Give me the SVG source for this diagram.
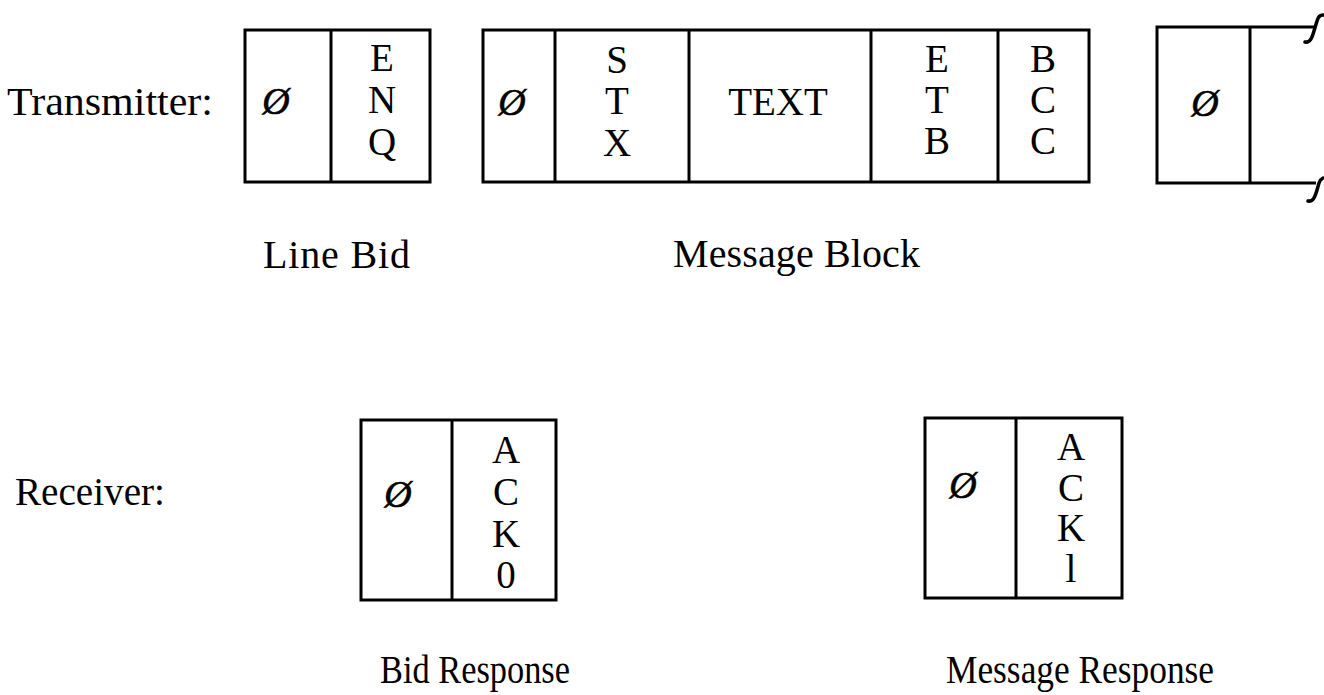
<svg xmlns="http://www.w3.org/2000/svg" width="1324" height="695" viewBox="0 0 1324 695">
<style>
  .box{fill:none;stroke:#000;stroke-width:3}
  .div{stroke:#000;stroke-width:3}
  .lbl{font-family:"Liberation Serif","Times New Roman",serif;font-size:40px;fill:#000}
  .ch{font-family:"Liberation Serif","Times New Roman",serif;font-size:39px;fill:#000;text-anchor:middle}
  .z{font-family:"Liberation Serif","Times New Roman",serif;font-size:38px;font-style:italic;fill:#000;stroke:#000;stroke-width:0.6;text-anchor:middle}
  .brk{fill:none;stroke:#000;stroke-width:3.5;stroke-linecap:round}
</style>
<rect width="1324" height="695" fill="#fff"/>

<g id="labels">
  <text class="lbl" x="7" y="115" textLength="206" lengthAdjust="spacingAndGlyphs">Transmitter:</text>
  <text class="lbl" x="263" y="268" textLength="147" lengthAdjust="spacing">Line Bid</text>
  <text class="lbl" x="673" y="267" textLength="247" lengthAdjust="spacing">Message Block</text>
  <text class="lbl" x="15" y="505" textLength="150" lengthAdjust="spacingAndGlyphs">Receiver:</text>
  <text class="lbl" x="380" y="683" textLength="190" lengthAdjust="spacingAndGlyphs">Bid Response</text>
  <text class="lbl" x="946" y="683" textLength="268" lengthAdjust="spacingAndGlyphs">Message Response</text>
</g>

<g id="line-bid">
  <rect class="box" x="245" y="30" width="185" height="152"/>
  <line class="div" x1="331" y1="30" x2="331" y2="182"/>
  <text class="z" x="276" y="114">Ø</text>
  <text class="ch" x="382" y="71">E</text>
  <text class="ch" x="382" y="113">N</text>
  <text class="ch" x="382" y="155">Q</text>
</g>

<g id="message-block">
  <rect class="box" x="483" y="30" width="606" height="152"/>
  <line class="div" x1="555" y1="30" x2="555" y2="182"/>
  <line class="div" x1="689" y1="30" x2="689" y2="182"/>
  <line class="div" x1="871" y1="30" x2="871" y2="182"/>
  <line class="div" x1="998" y1="30" x2="998" y2="182"/>
  <text class="z" x="512" y="115">Ø</text>
  <text class="ch" x="617" y="73">S</text>
  <text class="ch" x="617" y="114">T</text>
  <text class="ch" x="617" y="156">X</text>
  <text class="ch" x="778" y="115">TEXT</text>
  <text class="ch" x="937" y="72">E</text>
  <text class="ch" x="937" y="113">T</text>
  <text class="ch" x="937" y="154">B</text>
  <text class="ch" x="1043" y="72">B</text>
  <text class="ch" x="1043" y="113">C</text>
  <text class="ch" x="1043" y="154">C</text>
</g>

<g id="next-block">
  <path class="box" d="M1314,27 H1157 V183 H1316"/>
  <line class="div" x1="1250" y1="27" x2="1250" y2="183"/>
  <path class="brk" d="M1305,42 C1310,43 1312,38 1314,31 L1317,21 C1318,17 1320,15 1323,15"/>
  <path class="brk" d="M1308,201 C1313,202 1315,197 1317,190 L1319,183 C1320,180 1321,179 1323,178"/>
  <text class="z" x="1205" y="116">Ø</text>
</g>

<g id="bid-response">
  <rect class="box" x="361" y="420" width="195" height="180"/>
  <line class="div" x1="452" y1="420" x2="452" y2="600"/>
  <text class="z" x="398" y="507">Ø</text>
  <text class="ch" x="506" y="463">A</text>
  <text class="ch" x="506" y="505">C</text>
  <text class="ch" x="506" y="547">K</text>
  <text class="ch" x="506" y="588">0</text>
</g>

<g id="message-response">
  <rect class="box" x="925" y="418" width="197" height="180"/>
  <line class="div" x1="1016" y1="418" x2="1016" y2="598"/>
  <text class="z" x="963" y="498">Ø</text>
  <text class="ch" x="1071" y="460">A</text>
  <text class="ch" x="1071" y="501">C</text>
  <text class="ch" x="1071" y="541">K</text>
  <text class="ch" x="1071" y="582">l</text>
</g>

<g id="connectors"/>
</svg>
